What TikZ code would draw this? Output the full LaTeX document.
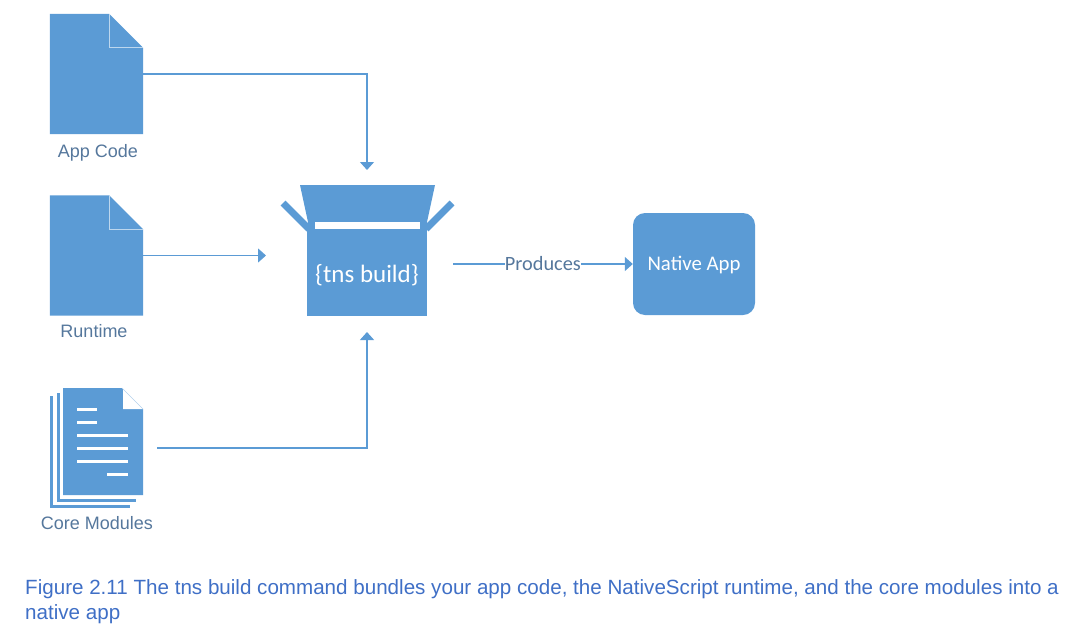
\documentclass[tikz,border=0pt]{standalone}
\usepackage{fontspec}
\setmainfont{Liberation Sans}
\newfontfamily\boxfont{Carlito}
\usetikzlibrary{positioning,arrows.meta}
\definecolor{officeblue}{HTML}{5B9BD5}
\definecolor{labelblue}{HTML}{55779C}
\definecolor{captionblue}{HTML}{3F6FC6}
\tikzset{
  doc node/.style={inner sep=0pt, minimum width=93pt, minimum height=120pt},
  doc label/.style={text=labelblue, font=\fontsize{18}{20}\selectfont, inner sep=0pt},
  link/.style={draw=officeblue, line width=1.1pt, -{Triangle[length=8pt,width=14pt]}},
  solid blue/.style={fill=officeblue, draw=none}
}
\begin{document}
\begin{tikzpicture}[x=1pt, y=-1pt]
  \useasboundingbox (0,0) rectangle (1081,627);

  % files on the left
  \node[doc node] (appcode) at (96.5,74) {};
  \node[doc node] (runtime) at (96.5,255.5) {};
  \node[doc node] (coremodules) at (96.5,448) {};
  \node[doc label] (appcodelabel) at (98,152.5) {App Code};
  \node[doc label] (runtimelabel) at (94,331) {Runtime};
  \node[doc label] (coremoduleslabel) at (97,523) {Core Modules};

  \foreach \doc in {appcode,runtime} {
    \fill[officeblue] (\doc.north west) -- ([xshift=-34pt]\doc.north east)
      -- ([yshift=-34pt]\doc.north east) -- (\doc.south east) -- (\doc.south west) -- cycle;
    \draw[white!60!officeblue, line width=0.8pt] ([xshift=-34pt]\doc.north east)
      -- ++(0,34) -- ++(34,0);
  }

  % stacked pages
  \draw[officeblue, line width=3pt] (51.5,396) |- (130,506.5);
  \draw[officeblue, line width=3pt] (58,393) |- (136,500.5);
  \fill[officeblue] (63,388) -- (122,388) -- (143,409) -- (143,495) -- (63,495) -- cycle;
  \fill[white] (123,389) -- (143,409) -- (123,409) -- cycle;
  \draw[white!60!officeblue, line width=0.6pt] (122,388) -- (143,409);
  \foreach \xa/\xb/\ya in {77/97/409, 77/97/422, 77/128/435, 77/128/448, 77/128/461, 107/128/474}
    \draw[white, line width=3pt] (\xa,\ya) -- (\xb,\ya);

  % the box
  \fill[officeblue] (300,185) -- (435,185) -- (427,222) -- (427,230) -- (307,230) -- (308,222) -- cycle;
  \draw[officeblue, line width=7pt] (309,229) -- (283,203);
  \draw[officeblue, line width=7pt] (426,229) -- (452,203);
  \node[solid blue, text=white, minimum width=120pt, minimum height=86pt, inner sep=0pt,
        text height=22pt, text depth=4pt,
        font=\boxfont\fontsize{25}{27}\selectfont] (build) at (367,273) {\{tns build\}};
  \fill[white] (315,222) rectangle (420,229);

  \node[solid blue, rounded corners=12pt, text=white, minimum width=122pt, minimum height=102pt,
        inner sep=0pt, text height=16pt, text depth=4pt,
        font=\boxfont\fontsize{20.8}{23}\selectfont] (nativeapp) at (694,264) {Native App};

  \coordinate (buildtop) at (367,170);
  \coordinate (buildleft) at (266,255.5);
  \coordinate (buildbottom) at (367,332);
  \coordinate (buildright) at (453,264);

  \draw[link] (appcode.east) -| (buildtop);
  \draw[link] (runtime.east) -- (buildleft);
  \draw[link] ([xshift=14pt]coremodules.east) -| (buildbottom);
  \path (buildright) edge[link] node[fill=white, inner sep=0pt, text=labelblue,
        font=\boxfont\fontsize{20.3}{22}\selectfont] (produces) {Produces} (nativeapp.west);

  \node[anchor=north west, inner sep=0pt, align=left, text=captionblue,
        font=\fontsize{20.6}{25.5}\selectfont] (caption) at (25,579)
    {Figure 2.11 The tns build command bundles your app code, the NativeScript runtime, and the core modules into a\\native app};
\end{tikzpicture}
\end{document}
